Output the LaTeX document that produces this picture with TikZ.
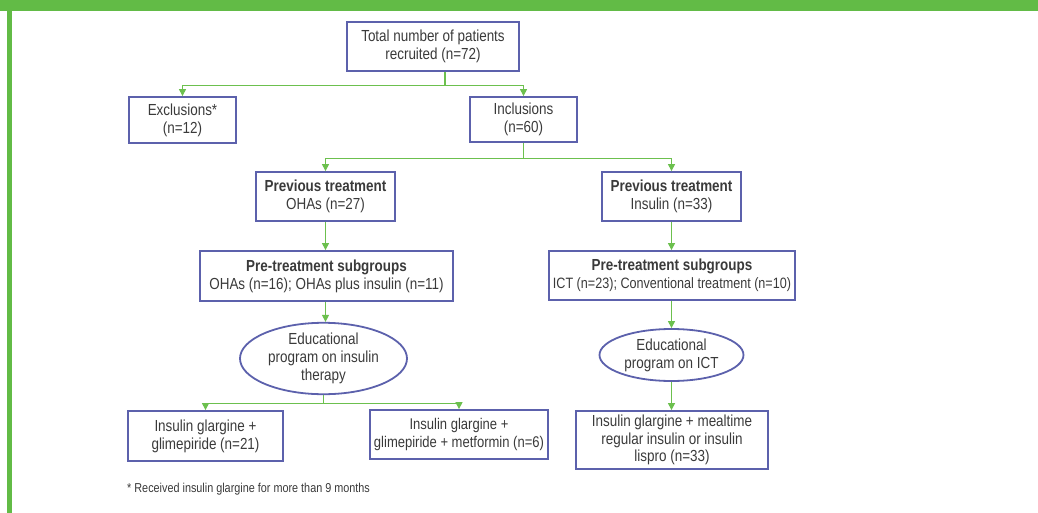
\documentclass[tikz,border=0pt]{standalone}
\usepackage{fontspec}
\setmainfont{Liberation Sans}[FakeStretch=0.84]
\usetikzlibrary{arrows.meta,shapes.geometric}
\definecolor{barG}{HTML}{62BB46}
\definecolor{lineG}{HTML}{6CC04E}
\definecolor{boxB}{HTML}{5C61AC}
\definecolor{txt}{HTML}{3A3A3A}
\tikzset{
  box/.style={draw=boxB,line width=1.8pt,rectangle,inner sep=0pt,align=center,text=txt,font={\fontsize{16}{17.8}\selectfont}},
  oval/.style={draw=boxB,line width=1.8pt,ellipse,inner sep=0pt,align=center,text=txt,font={\fontsize{16}{17.8}\selectfont}},
  link/.style={draw=lineG,line width=1.1pt},
  arr/.style={link,-{Triangle[width=7pt,length=7pt]}},
}
\begin{document}
\begin{tikzpicture}[x=1pt,y=-1pt]
\useasboundingbox (0,0) rectangle (1038,513);
\fill[barG] (0,0) rectangle (1038,11);
\fill[barG] (7,0) rectangle (12,513);

\node[box,minimum width=172pt,minimum height=49pt] (total) at (433,46.5) {Total number of patients\\recruited (n=72)};
\node[box,minimum width=107pt,minimum height=46pt] (excl) at (182.5,120) {Exclusions*\\(n=12)};
\node[box,minimum width=107pt,minimum height=45pt] (incl) at (523.5,119.5) {Inclusions\\(n=60)};
\node[box,minimum width=139pt,minimum height=49pt] (prevO) at (325.5,196.5) {\textbf{Previous treatment}\\OHAs (n=27)};
\node[box,minimum width=139pt,minimum height=49pt] (prevI) at (671.5,196.5) {\textbf{Previous treatment}\\Insulin (n=33)};
\node[box,minimum width=253pt,minimum height=50pt] (preO) at (326.5,276) {\textbf{Pre-treatment subgroups}\\OHAs (n=16); OHAs plus insulin (n=11)};
\node[box,minimum width=246pt,minimum height=49pt] (preI) at (672,275.5) {\textbf{Pre-treatment subgroups}\\{\fontsize{15}{17.8}\selectfont ICT (n=23); Conventional treatment (n=10)}};
\node[oval,minimum width=167pt,minimum height=57pt] (eduO) at (323.5,358.5) {Educational\\program on insulin\\therapy};
\node[oval,minimum width=144pt,minimum height=52pt] (eduI) at (671.5,355) {Educational\\program on ICT};
\node[box,minimum width=155pt,minimum height=50pt] (resA) at (205.5,436) {Insulin glargine +\\glimepiride (n=21)};
\node[box,minimum width=178pt,minimum height=49pt,font={\fontsize{15.5}{17.8}\selectfont}] (resB) at (459,434.5) {Insulin glargine +\\glimepiride + metformin (n=6)};
\node[box,minimum width=192pt,minimum height=58pt] (resC) at (672,440) {Insulin glargine + mealtime\\regular insulin or insulin\\lispro (n=33)};
\node[anchor=west,inner sep=0pt,text=txt,font={\fontsize{12.9}{14}\selectfont}] (foot) at (127,489) {* Received insulin glargine for more than 9 months};

\draw[link] ([xshift=12pt]total.south) -- ++(0,14) coordinate (b1);
\draw[arr] (b1) -| (excl.north);
\draw[arr] (b1) -| (incl.north);

\draw[link] (incl.south) -- ++(0,16) coordinate (b2);
\draw[arr] (b2) -| (prevO.north);
\draw[arr] (b2) -| (prevI.north);

\draw[arr] (prevO.south) -- (prevO.south |- preO.north);
\draw[arr] (prevI.south) -- (prevI.south |- preI.north);
\draw[arr] (preO.south -| prevO.south) -- (prevO.south |- eduO.north);
\draw[arr] (preI.south -| eduI.north) -- (eduI.north);

\draw[link] (eduO.south) -- ++(0,8) coordinate (b3);
\draw[arr] (b3) -| (resA.north);
\draw[arr] (b3) -| (resB.north);
\draw[arr] (eduI.south) -- (eduI.south |- resC.north);
\end{tikzpicture}
\end{document}
